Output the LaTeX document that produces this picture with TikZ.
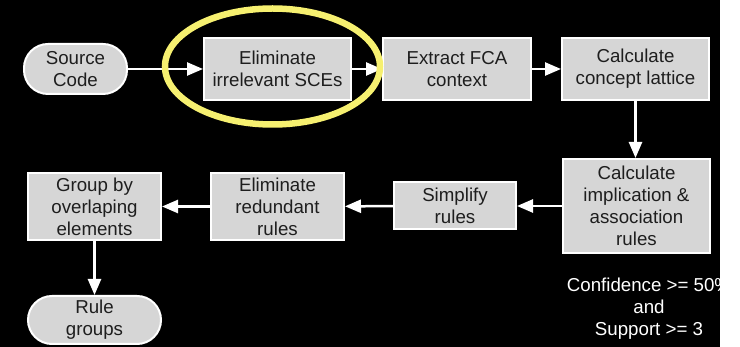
\documentclass[tikz,border=0pt]{standalone}
\usepackage{fontspec}
\setmainfont{Liberation Sans}
\usetikzlibrary{arrows.meta}
\definecolor{boxgray}{RGB}{214,214,214}
\definecolor{boxtext}{RGB}{30,30,30}
\definecolor{markyellow}{RGB}{246,240,112}
\begin{document}
\begin{tikzpicture}[x=1pt,y=1pt,
  every node/.style={font=\fontsize{18.7}{22}\selectfont},
  stepbox/.style={draw=white, line width=2pt, fill=boxgray, text=boxtext,
    align=center, inner sep=0pt},
  terminal/.style={stepbox, rounded corners=24pt},
  flow/.style={draw=white, line width=2.5pt,
    -{Triangle[length=16pt,width=13pt]}}
]
\useasboundingbox (0,0) rectangle (740,-347);
\fill[white] (0,0) rectangle (740,-347);
\fill[black] (0,0) rectangle (720,-347);

% top row
\node[terminal, minimum width=103pt, minimum height=50pt] (src) at (75.5,-69) {Source\\Code};
\node[stepbox, minimum width=147pt, minimum height=62pt] (elim) at (277.5,-69) {Eliminate\\irrelevant SCEs};
\node[stepbox, minimum width=148pt, minimum height=62pt] (fca) at (457,-69) {Extract FCA\\context};
\node[stepbox, minimum width=147pt, minimum height=62pt] (lattice) at (635.5,-69) {Calculate\\concept lattice};

% second row
\node[stepbox, minimum width=147pt, minimum height=94pt] (impl) at (636.5,-206) {Calculate\\implication \&\\association\\rules};
\node[stepbox, minimum width=122pt, minimum height=47pt] (simp) at (455,-206) {Simplify\\rules};
\node[stepbox, minimum width=133pt, minimum height=67pt] (redund) at (277.5,-206.5) {Eliminate\\redundant\\rules};
\node[stepbox, minimum width=133pt, minimum height=67pt] (group) at (94.5,-206.5) {Group by\\overlaping\\elements};
\node[terminal, minimum width=133pt, minimum height=48pt] (rules) at (94.5,-320) {Rule\\groups};

% thresholds
\node[text=white, align=center] (thresh) at (649,-309) {Confidence >= 50\%\\and\\Support >= 3};

% connectors
\draw[flow] (src) -- (elim);
\draw[flow] (elim) -- (fca);
\draw[flow] (fca) -- (lattice);
\draw[flow] (lattice.south) -- (lattice.south |- impl.north);
\draw[flow] (impl) -- (simp);
\draw[flow] (simp) -- (redund);
\draw[flow] (redund) -- (group);
\draw[flow] (group) -- (rules);

% highlight
\draw[markyellow, line width=6.5pt] (272.5,-66.5) ellipse [x radius=107.5pt, y radius=58pt];
\end{tikzpicture}
\end{document}
